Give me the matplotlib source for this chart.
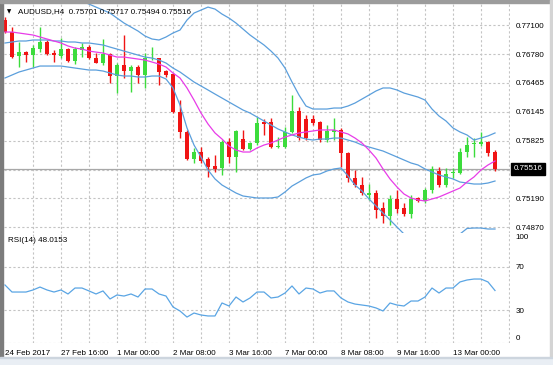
import matplotlib
matplotlib.use('Agg')
import matplotlib.pyplot as plt
import matplotlib.transforms as mtransforms
from matplotlib.patches import Rectangle
import numpy as np

plt.rcParams['font.family'] = ['Liberation Sans', 'DejaVu Sans']

# AUDUSD H4 bars, 24 Feb 2017 08:00 .. 14 Mar 2017 00:00
opens = [0.77155, 0.77026, 0.76758, 0.76806, 0.76769, 0.76832, 0.76916, 0.76795, 0.76758, 0.76832,
         0.76707, 0.76824, 0.76854, 0.76740, 0.76684, 0.76780, 0.76538, 0.76659, 0.76596, 0.76640,
         0.76549, 0.76733, 0.76733, 0.76596, 0.76560, 0.76144, 0.75924, 0.75620, 0.75703, 0.75620,
         0.75546, 0.75520, 0.75814, 0.75648, 0.75843, 0.75730, 0.75796, 0.76034, 0.76034, 0.75752,
         0.75752, 0.75924, 0.76155, 0.76061, 0.76061, 0.76034, 0.75832, 0.75924, 0.75943, 0.75686,
         0.75410, 0.75336, 0.75226, 0.75245, 0.75080, 0.74995, 0.75179, 0.75080, 0.75017, 0.75190,
         0.75163, 0.75281, 0.75494, 0.75336, 0.75465, 0.75465, 0.75703, 0.75785, 0.75788, 0.75814,
         0.75701]
highs = [0.77188, 0.77081, 0.76916, 0.76810, 0.76880, 0.77081, 0.76935, 0.76824, 0.76953, 0.76843,
         0.76861, 0.76898, 0.76880, 0.76795, 0.76942, 0.76795, 0.76678, 0.76990, 0.76659, 0.76659,
         0.76788, 0.76854, 0.76740, 0.76604, 0.76571, 0.76273, 0.75943, 0.75741, 0.75759, 0.75648,
         0.75667, 0.75832, 0.75851, 0.75943, 0.75943, 0.75810, 0.76089, 0.76061, 0.76072, 0.75869,
         0.75979, 0.76328, 0.76199, 0.76108, 0.76108, 0.76042, 0.75998, 0.76072, 0.75961, 0.75703,
         0.75502, 0.75428, 0.75347, 0.75281, 0.75152, 0.75226, 0.75281, 0.75135, 0.75226, 0.75201,
         0.75300, 0.75546, 0.75531, 0.75520, 0.75520, 0.75741, 0.75869, 0.75851, 0.75924, 0.75820,
         0.75717]
lows = [0.77012, 0.76733, 0.76640, 0.76695, 0.76640, 0.76806, 0.76769, 0.76695, 0.76733, 0.76695,
        0.76670, 0.76751, 0.76722, 0.76678, 0.76659, 0.76457, 0.76354, 0.76513, 0.76365, 0.76457,
        0.76402, 0.76714, 0.76439, 0.76530, 0.76130, 0.75851, 0.75612, 0.75576, 0.75576, 0.75428,
        0.75483, 0.75447, 0.75576, 0.75483, 0.75722, 0.75722, 0.75777, 0.75888, 0.75741, 0.75741,
        0.75741, 0.75906, 0.75832, 0.75832, 0.75998, 0.75814, 0.75814, 0.75832, 0.75538, 0.75373,
        0.75318, 0.75226, 0.75171, 0.74969, 0.74914, 0.74895, 0.75024, 0.74995, 0.74969, 0.75152,
        0.75141, 0.75245, 0.75311, 0.75318, 0.75410, 0.75460, 0.75648, 0.75648, 0.75766, 0.75656,
        0.75494]
closes = [0.77023, 0.76751, 0.76806, 0.76769, 0.76843, 0.76916, 0.76780, 0.76769, 0.76832, 0.76707,
          0.76832, 0.76854, 0.76733, 0.76684, 0.76780, 0.76538, 0.76659, 0.76596, 0.76640, 0.76549,
          0.76733, 0.76740, 0.76585, 0.76549, 0.76144, 0.75924, 0.75620, 0.75703, 0.75604, 0.75538,
          0.75516, 0.75814, 0.75648, 0.75932, 0.75730, 0.75803, 0.76023, 0.76009, 0.75752, 0.75766,
          0.75924, 0.76155, 0.75851, 0.75851, 0.76023, 0.75832, 0.75932, 0.75943, 0.75686, 0.75410,
          0.75331, 0.75245, 0.75248, 0.75061, 0.74995, 0.75179, 0.75069, 0.75017, 0.75179, 0.75163,
          0.75281, 0.75509, 0.75336, 0.75458, 0.75483, 0.75703, 0.75777, 0.75803, 0.75814, 0.75692,
          0.75516]

# Bollinger bands (upper / middle / lower) and the magenta moving average
bb_upper = [0.77596, 0.77585, 0.77574, 0.77563, 0.77541, 0.77519, 0.77497, 0.77475, 0.77453, 0.77431,
            0.77398, 0.77365, 0.77331, 0.77298, 0.77265, 0.77232, 0.77177, 0.77122, 0.77078, 0.77034,
            0.76979, 0.76946, 0.76935, 0.76968, 0.77012, 0.77045, 0.77155, 0.77232, 0.77265, 0.77298,
            0.77276, 0.77221, 0.77177, 0.77122, 0.77056, 0.76990, 0.76935, 0.76880, 0.76813, 0.76736,
            0.76626, 0.76472, 0.76328, 0.76207, 0.76174, 0.76174, 0.76174, 0.76185, 0.76185, 0.76207,
            0.76240, 0.76284, 0.76328, 0.76373, 0.76406, 0.76406, 0.76384, 0.76350, 0.76328, 0.76306,
            0.76273, 0.76174, 0.76097, 0.76042, 0.75965, 0.75921, 0.75888, 0.75832, 0.75854, 0.75877,
            0.75910]
bb_middle = [0.76902, 0.76913, 0.76924, 0.76924, 0.76935, 0.76935, 0.76935, 0.76924, 0.76924, 0.76913,
             0.76913, 0.76902, 0.76902, 0.76891, 0.76880, 0.76857, 0.76835, 0.76813, 0.76791, 0.76769,
             0.76747, 0.76736, 0.76714, 0.76681, 0.76626, 0.76582, 0.76527, 0.76472, 0.76428, 0.76384,
             0.76339, 0.76295, 0.76251, 0.76207, 0.76163, 0.76130, 0.76086, 0.76042, 0.75998, 0.75954,
             0.75921, 0.75888, 0.75865, 0.75843, 0.75832, 0.75843, 0.75843, 0.75854, 0.75854, 0.75832,
             0.75810, 0.75777, 0.75755, 0.75733, 0.75711, 0.75678, 0.75645, 0.75612, 0.75579, 0.75557,
             0.75513, 0.75480, 0.75447, 0.75425, 0.75403, 0.75369, 0.75358, 0.75347, 0.75347, 0.75358,
             0.75380]
bb_lower = [0.76516, 0.76549, 0.76582, 0.76604, 0.76626, 0.76648, 0.76648, 0.76648, 0.76648, 0.76637,
            0.76626, 0.76615, 0.76604, 0.76604, 0.76593, 0.76571, 0.76549, 0.76538, 0.76538, 0.76527,
            0.76527, 0.76538, 0.76538, 0.76505, 0.76406, 0.76218, 0.75965, 0.75777, 0.75645, 0.75502,
            0.75403, 0.75336, 0.75292, 0.75248, 0.75215, 0.75204, 0.75193, 0.75193, 0.75193, 0.75204,
            0.75259, 0.75325, 0.75369, 0.75414, 0.75447, 0.75458, 0.75491, 0.75513, 0.75524, 0.75436,
            0.75336, 0.75270, 0.75182, 0.75105, 0.75028, 0.74951, 0.74873, 0.74796, 0.74730, 0.74686,
            0.74664, 0.74664, 0.74686, 0.74730, 0.74774, 0.74796, 0.74857, 0.74862, 0.74862, 0.74851,
            0.74851]
ma_line = [0.77023, 0.77023, 0.77012, 0.77001, 0.76990, 0.76968, 0.76946, 0.76924, 0.76902, 0.76869,
           0.76846, 0.76835, 0.76813, 0.76802, 0.76791, 0.76769, 0.76747, 0.76747, 0.76736, 0.76725,
           0.76714, 0.76692, 0.76670, 0.76637, 0.76571, 0.76516, 0.76406, 0.76273, 0.76130, 0.76009,
           0.75910, 0.75843, 0.75766, 0.75722, 0.75700, 0.75700, 0.75744, 0.75777, 0.75799, 0.75832,
           0.75865, 0.75888, 0.75910, 0.75921, 0.75932, 0.75943, 0.75943, 0.75943, 0.75921, 0.75899,
           0.75854, 0.75799, 0.75722, 0.75634, 0.75513, 0.75403, 0.75314, 0.75237, 0.75193, 0.75171,
           0.75160, 0.75182, 0.75204, 0.75237, 0.75270, 0.75303, 0.75369, 0.75425, 0.75502, 0.75557,
           0.75601]

rsi = [53.1, 46.6, 46.6, 46.6, 48.5, 51.2, 48.5, 46.6, 48.5, 44.8,
       50.3, 50.3, 47.6, 44.8, 47.6, 40.2, 43.9, 42.9, 44.8, 42.0,
       49.4, 49.4, 44.8, 42.9, 32.8, 29.1, 23.5, 27.2, 25.4, 24.5,
       24.5, 36.5, 33.7, 42.0, 37.4, 41.1, 46.6, 46.6, 41.1, 42.0,
       45.7, 52.2, 44.8, 50.3, 49.4, 45.7, 47.6, 47.6, 41.1, 37.4,
       35.5, 34.6, 33.7, 31.9, 29.1, 36.5, 34.6, 33.7, 38.3, 38.3,
       42.0, 50.3, 45.7, 50.3, 50.3, 55.9, 57.7, 58.6, 58.6, 55.9,
       48.0]

price_ticks = [0.77100, 0.76780, 0.76465, 0.76145, 0.75825, 0.75505, 0.75190, 0.74870]
price_labels = ['0.77100', '0.76780', '0.76465', '0.76145', '0.75825', '', '0.75190', '0.74870']
last_price = 0.75516
rsi_levels = [30, 70]
rsi_now = 48.0153
time_ticks = [0, 8, 16, 24, 32, 40, 48, 56, 64]
time_labels = ['24 Feb 2017', '27 Feb 16:00', '1 Mar 00:00', '2 Mar 08:00', '3 Mar 16:00',
               '7 Mar 00:00', '8 Mar 08:00', '9 Mar 16:00', '13 Mar 00:00']
title = 'AUDUSD,H4  0.75701 0.75717 0.75494 0.75516'

GREEN = '#3cdc3c'
RED = '#f01414'
BAND = '#5b9fdc'
MAGENTA = '#e83ce8'
GRID = '#c4c4c4'
FS = 5.8

W, H = 553, 365
fig = plt.figure(figsize=(W / 100, H / 100), dpi=100, facecolor='white')
ax = fig.add_axes([4 / W, 1 - 233 / H, 506 / W, 229 / H])
ax2 = fig.add_axes([4 / W, 1 - 342.5 / H, 506 / W, 109.5 / H], sharex=ax)

x = np.arange(len(opens))
o = np.array(opens)
c = np.array(closes)
colors = np.where(c >= o, GREEN, RED)

# grid
dash = (0, (2, 2))
for a in (ax, ax2):
    for gx in np.arange(4, 73, 4):
        a.axvline(gx, color=GRID, lw=0.8, ls=dash, zorder=0)
for p in price_ticks:
    ax.axhline(p, color=GRID, lw=0.8, ls=dash, zorder=0)
for lv in rsi_levels + [0]:
    ax2.axhline(lv, color=GRID, lw=0.8, ls=dash, zorder=0)

# bid line
ax.axhline(last_price, color='#a8a8a8', lw=0.9, zorder=1)

# candles
ax.vlines(x, lows, highs, colors=colors, lw=1.0, zorder=2)
body_h = np.maximum(np.abs(c - o), 0.00009)
ax.bar(x, body_h, 0.7, bottom=np.minimum(o, c), color=colors, linewidth=0, zorder=3)

# indicators
ax.plot(x, bb_upper, color=BAND, lw=0.9, zorder=4)
ax.plot(x, bb_middle, color=BAND, lw=0.9, zorder=4)
ax.plot(x, bb_lower, color=BAND, lw=0.9, zorder=4)
ax.plot(x, ma_line, color=MAGENTA, lw=0.9, zorder=4)
ax2.plot(x, rsi, color='#5aa5e4', lw=0.9)

ax.set_xlim(-0.143, 72.143)
ax.set_ylim(0.74807, 0.77332)
ax2.set_ylim(0, 101.1)

for a in (ax, ax2):
    for s in a.spines.values():
        s.set_visible(False)
    a.yaxis.tick_right()
    a.tick_params(axis='both', length=0, labelsize=FS, colors='black')

ax.set_yticks(price_ticks, price_labels)
ax.tick_params(axis='y', pad=4.3)
ax.tick_params(axis='x', labelbottom=False)

ax2.set_yticks([0, 30, 70, 100], ['0', '30', '70', '100'])
ax2.tick_params(axis='y', pad=3.8)
ylabs = ax2.get_yticklabels()
ylabs[0].set_va('bottom')
ylabs[3].set_va('top')

ax2.set_xticks(time_ticks, time_labels)
ax2.tick_params(axis='x', pad=5.2)
for lab in ax2.get_xticklabels():
    lab.set_ha('left')

# last price tag
trans = mtransforms.blended_transform_factory(ax.transAxes, ax.transData)
ax.text(1.0075, last_price, f'{last_price:.5f}', transform=trans, color='white', fontsize=FS,
        va='center', ha='left', zorder=6,
        bbox=dict(boxstyle='square,pad=0.3', fc='black', ec='black'))

# chart captions
fig.text(9.5 / W, 1 - 11.5 / H, '\u25bc', fontsize=4, ha='center', va='center',
         family=['DejaVu Sans'])
fig.text(18 / W, 1 - 12 / H, title, fontsize=FS, ha='left', va='center', zorder=10)
fig.text(8 / W, 1 - 240 / H, f'RSI(14) {rsi_now:.4f}', fontsize=FS, ha='left', va='center')

# window frame
fig.patches.append(Rectangle((0, 0), 3 / W, 1, transform=fig.transFigure, color='#7c7c7c'))
fig.patches.append(Rectangle((0, 1 - 3 / H), 1, 3 / H, transform=fig.transFigure, color='#9c9c9c'))
fig.patches.append(Rectangle((550 / W, 0), 3 / W, 1, transform=fig.transFigure, color='#d4d4d4'))
fig.patches.append(Rectangle((0, 0), 1, 7 / H, transform=fig.transFigure, color='#e9eef4'))
fig.patches.append(Rectangle((0, 7 / H), 1, 1 / H, transform=fig.transFigure, color='#cdd5de'))

fig.savefig('out.png', dpi=100, facecolor='white')
